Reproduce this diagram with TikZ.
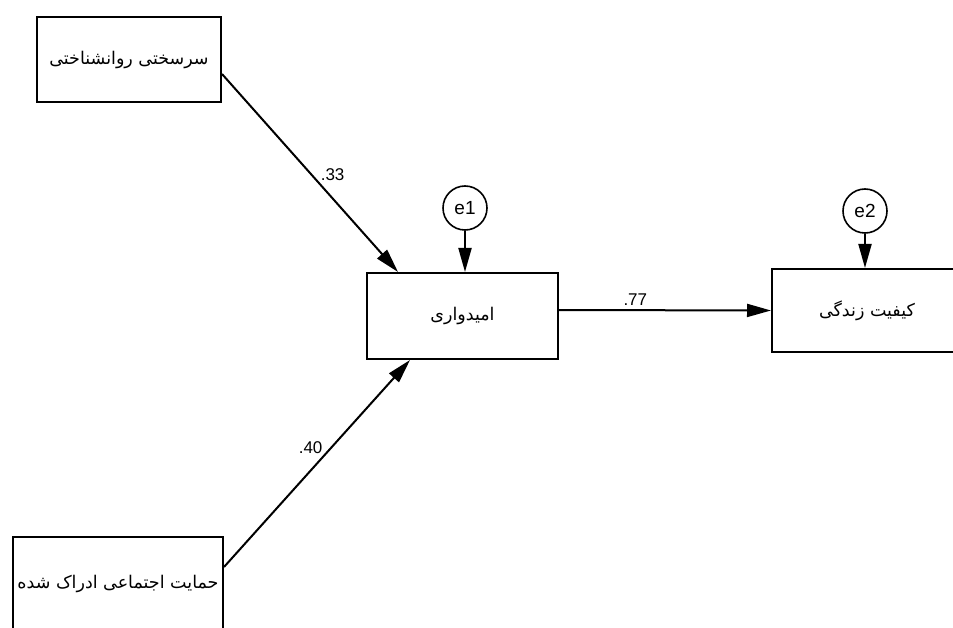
\documentclass[tikz,border=0pt]{standalone}
\usepackage{fontspec}
\setmainfont{Liberation Sans}
\newfontfamily\persianfont[Script=Arabic]{DejaVu Sans}
\TeXXeTstate=1
\usetikzlibrary{arrows.meta}

\begin{document}
\begin{tikzpicture}[x=1pt, y=-1pt,
    varbox/.style={draw, line width=2pt, inner sep=0pt,
        font=\persianfont\fontsize{17.5}{20}\selectfont},
    errcirc/.style={draw, circle, line width=1.6pt, minimum size=44pt,
        inner sep=0pt, font=\fontsize{19}{21}\selectfont},
    effect/.style={line width=2pt, -{Triangle[length=24pt, width=13pt]}},
    coef/.style={font=\fontsize{17}{19}\selectfont, inner sep=1pt}]
        \useasboundingbox (0,0) rectangle (953,628);
        \fill[white] (0,0) rectangle (953,628);
        \clip (0,0) rectangle (953,628);
        % ---- observed variables ----
        \node[varbox, minimum width=184pt, minimum height=85pt] (hardy) at (129,59.5)
            {\beginR سرسختی روانشناختی\endR};
        \node[varbox, minimum width=210pt, minimum height=100pt] (support) at (118,587)
            {\raisebox{10pt}{\beginR حمایت اجتماعی ادراک شده\endR}};
        \node[varbox, minimum width=191pt, minimum height=86pt] (hope) at (462.5,316)
            {\beginR امیدواری\endR};
        \node[varbox, minimum width=190pt, minimum height=83pt] (qol) at (867,310.5)
            {\beginR کیفیت زندگی\endR};
        % ---- error terms ----
        \node[errcirc] (e1) at (465,208) {e1};
        \node[errcirc] (e2) at (865,211) {e2};
        % ---- paths ----
        \draw[effect] ([yshift=-14.5pt]hardy.east) -- ([xshift=-64.5pt]hope.north)
            node[coef, pos=0.55, above right] {.33};
        \draw[effect] ([yshift=20pt]support.east) -- ([xshift=-52.5pt]hope.south)
            node[coef, pos=0.54, above left] {.40};
        \draw[effect] ([yshift=6pt]hope.east) -- (qol.west)
            node[coef, pos=0.36, above=3pt] {.77};
        \draw[effect] (e1) -- (e1 |- hope.north);
        \draw[effect] (e2) -- (e2 |- qol.north);
\end{tikzpicture}
\end{document}
